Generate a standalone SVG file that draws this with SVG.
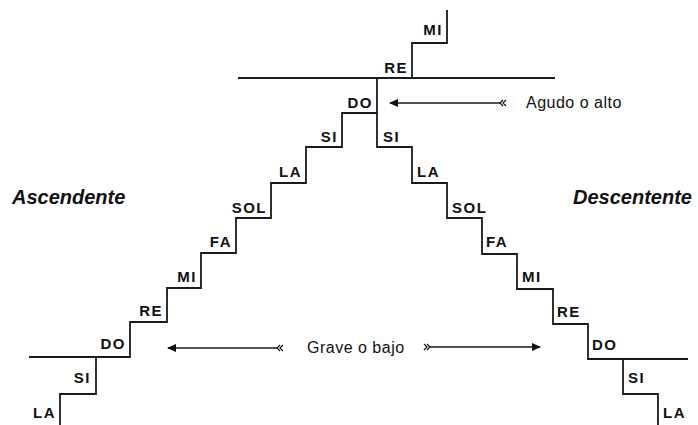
<svg xmlns="http://www.w3.org/2000/svg" width="698" height="425" viewBox="0 0 698 425">
  <style>
    .ln { fill: none; stroke: #1a1a1a; stroke-width: 1.8; }
    .note { font-family: "Liberation Sans", Arial, sans-serif; font-weight: bold; font-size: 15px; letter-spacing: 1.5px; fill: #111; }
    .l { text-anchor: end; }
    .title { font-family: "Liberation Sans", Arial, sans-serif; font-weight: bold; font-style: italic; font-size: 20px; fill: #111; }
    .cap { font-family: "Liberation Sans", Arial, sans-serif; font-size: 16px; letter-spacing: 0.5px; fill: #111; }
    .arr { fill: none; stroke: #1a1a1a; stroke-width: 1.6; marker-start: url(#tail); marker-end: url(#head); }
  </style>
  <defs>
    <marker id="head" markerUnits="userSpaceOnUse" markerWidth="12" markerHeight="10" refX="8" refY="4" orient="auto">
      <path d="M0,0 L9,4 L0,8 Z" fill="#111"/>
    </marker>
    <marker id="tail" markerUnits="userSpaceOnUse" markerWidth="12" markerHeight="10" refX="6" refY="4" orient="auto">
      <path d="M1,1 L4,4 L1,7 M4,1 L7,4 L4,7" fill="none" stroke="#111" stroke-width="1.2"/>
    </marker>
  </defs>

  <g id="stairs">
    <path class="ln" d="M60,425 V394 H96 V357 H130 V322 H167 V288 H201 V253 H236 V218 H271 V183 H306 V147 H342 V113 H377 V147 H412 V183 H447 V218 H482 V254 H517 V289 H553 V324 H588 V359 H623 V394 H658 V425"/>
    <path class="ln" d="M377,113 V78"/>
    <path class="ln" d="M238,78 H555"/>
    <path class="ln" d="M412,78 V43 H447 V10"/>
    <path class="ln" d="M29,357 H96"/>
    <path class="ln" d="M623,359 H688"/>
  </g>

  <g id="labels-ascending">
    <text class="note l" x="56" y="418">LA</text>
    <text class="note l" x="91" y="383">SI</text>
    <text class="note l" x="126" y="349">DO</text>
    <text class="note l" x="163" y="316">RE</text>
    <text class="note l" x="197" y="282">MI</text>
    <text class="note l" x="232" y="247">FA</text>
    <text class="note l" x="267" y="213">SOL</text>
    <text class="note l" x="302" y="177">LA</text>
    <text class="note l" x="338" y="142">SI</text>
    <text class="note l" x="373" y="108">DO</text>
    <text class="note l" x="408" y="73">RE</text>
    <text class="note l" x="443" y="35">MI</text>
  </g>

  <g id="labels-descending">
    <text class="note" x="383" y="142">SI</text>
    <text class="note" x="417" y="177">LA</text>
    <text class="note" x="452" y="213">SOL</text>
    <text class="note" x="486" y="247">FA</text>
    <text class="note" x="522" y="282">MI</text>
    <text class="note" x="557" y="317">RE</text>
    <text class="note" x="592" y="350">DO</text>
    <text class="note" x="628" y="383">SI</text>
    <text class="note" x="663" y="418">LA</text>
  </g>

  <g id="ascendente">
    <text class="title" x="12" y="204">Ascendente</text>
  </g>
  <g id="descentente">
    <text class="title" x="573" y="204">Descentente</text>
  </g>
  <g id="agudo">
    <text class="cap" x="526" y="108">Agudo o alto</text>
  </g>
  <g id="grave">
    <text class="cap" x="307" y="353">Grave o bajo</text>
  </g>

  <g id="connectors">
    <path class="arr" d="M501,103 H390"/>
    <path class="arr" d="M278,348 H168"/>
    <path class="arr" d="M429,347 H540"/>
  </g>
</svg>
